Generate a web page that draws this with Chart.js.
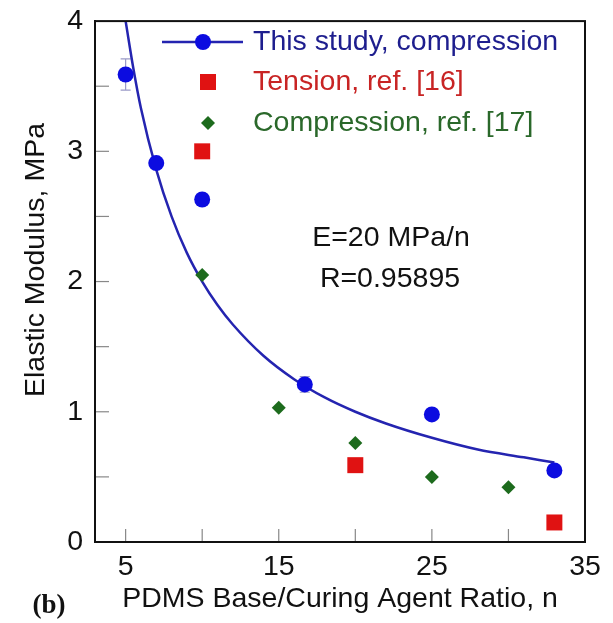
<!DOCTYPE html>
<html>
<head>
<meta charset="utf-8">
<script src="https://cdn.jsdelivr.net/npm/chart.js@4.4.1/dist/chart.umd.min.js"></script>
<style>
  html, body { margin: 0; padding: 0; background: #fff; }
  #wrap { width: 613px; height: 623px; }
</style>
</head>
<body>
<div id="wrap"><canvas id="modulusChart" width="613" height="623"></canvas></div>
<script>
// ─── Data ───────────────────────────────────────
const studyN = [5, 7, 10, 16.7, 25, 33];
const studyE = [3.59, 2.91, 2.63, 1.21, 0.98, 0.55];
const studyErrLo = [3.47, null, null, 1.15, null, null];
const studyErrHi = [3.71, null, null, 1.27, null, null];

const tensionN = [10, 20, 33];
const tensionE = [3.0, 0.59, 0.15];

const comp17N = [10, 15, 20, 25, 30];
const comp17E = [2.05, 1.03, 0.76, 0.5, 0.42];

// fitted curve E = 20 MPa/n, as traced
const fitN = [5, 5.5, 6, 7, 8, 9, 10, 11, 12, 14, 16, 18, 20, 22, 25, 28, 31, 33];
const fitE = [4.0, 3.64, 3.33, 2.86, 2.5, 2.22, 2.0, 1.82, 1.67, 1.43, 1.25, 1.11, 1.0, 0.91, 0.8, 0.71, 0.65, 0.61];

const xTicks = [5, 10, 15, 20, 25, 30, 35];
const xLabels = [5, 15, 25, 35];
const yLabels = [0, 1, 2, 3, 4];

const legendLabels = ["This study, compression", "Tension, ref. [16]", "Compression, ref. [17]"];
const fitText = ["E=20 MPa/n", "R=0.95895"];

// ─── Helpers ───────────────────────────────────
const FONT = "'Liberation Sans', Arial, sans-serif";
const FS = 28.5;
const BLUE = "#0c0ce0";
const LINE_BLUE = "#2424b0";
const RED = "#e01212";
const GREEN = "#1d6b1d";
const pts = (xs, ys) => xs.map((x, i) => ({ x, y: ys[i] }));

// ─── Plugin: frame, inward ticks, error bars, legend, labels ──
const figurePlugin = {
	id: "figure",
	beforeDatasetsDraw(chart) {
		const { ctx } = chart;
		const xs = chart.scales.x, ys = chart.scales.y;
		ctx.save();
		ctx.strokeStyle = "#9a9ac8";
		ctx.lineWidth = 1.2;
		studyN.forEach((n, i) => {
			if (studyErrLo[i] == null) return;
			const px = xs.getPixelForValue(n);
			const y1 = ys.getPixelForValue(studyErrLo[i]);
			const y2 = ys.getPixelForValue(studyErrHi[i]);
			ctx.beginPath();
			ctx.moveTo(px, y1); ctx.lineTo(px, y2);
			ctx.moveTo(px - 5, y1); ctx.lineTo(px + 5, y1);
			ctx.moveTo(px - 5, y2); ctx.lineTo(px + 5, y2);
			ctx.stroke();
		});
		ctx.restore();
	},
	afterDatasetsDraw(chart) {
		const { ctx, chartArea: a } = chart;
		const xs = chart.scales.x, ys = chart.scales.y;
		ctx.save();
		// inward ticks
		ctx.strokeStyle = "#888";
		ctx.lineWidth = 1.2;
		ys.ticks.forEach((t) => {
			if (t.value <= 0 || t.value >= 4) return;
			const py = ys.getPixelForValue(t.value);
			ctx.beginPath();
			ctx.moveTo(a.left, py); ctx.lineTo(a.left + 14, py);
			ctx.stroke();
		});
		xTicks.forEach((v) => {
			if (v >= 35) return;
			const px = xs.getPixelForValue(v);
			ctx.beginPath();
			ctx.moveTo(px, a.bottom); ctx.lineTo(px, a.bottom - 13);
			ctx.stroke();
		});
		// frame
		ctx.strokeStyle = "#111";
		ctx.lineWidth = 2;
		ctx.strokeRect(a.left, a.top, a.right - a.left, a.bottom - a.top);

		// legend
		ctx.font = `${FS}px ${FONT}`;
		ctx.textBaseline = "middle";
		ctx.textAlign = "left";
		const rows = [42, 82, 123];
		ctx.strokeStyle = LINE_BLUE;
		ctx.lineWidth = 2.5;
		ctx.beginPath();
		ctx.moveTo(162, rows[0]); ctx.lineTo(243, rows[0]);
		ctx.stroke();
		ctx.fillStyle = BLUE;
		ctx.beginPath(); ctx.arc(203, rows[0], 8, 0, Math.PI * 2); ctx.fill();
		ctx.fillStyle = RED;
		ctx.fillRect(200, rows[1] - 8, 16, 16);
		ctx.fillStyle = GREEN;
		ctx.beginPath();
		ctx.moveTo(208, rows[2] - 7); ctx.lineTo(215, rows[2]);
		ctx.lineTo(208, rows[2] + 7); ctx.lineTo(201, rows[2]);
		ctx.closePath(); ctx.fill();

		const textColors = ["#1e1e8e", "#c82424", "#2a682a"];
		legendLabels.forEach((s, i) => {
			ctx.fillStyle = textColors[i];
			ctx.fillText(s, 253, rows[i]);
		});

		// fit annotation
		ctx.fillStyle = "#111";
		ctx.textAlign = "center";
		ctx.fillText(fitText[0], 391, 238);
		ctx.fillText(fitText[1], 390, 279);

		// axis titles
		ctx.fillText("PDMS Base/Curing Agent Ratio, n", 340, 599);
		ctx.save();
		ctx.translate(36, 260);
		ctx.rotate(-Math.PI / 2);
		ctx.fillText("Elastic Modulus, MPa", 0, 0);
		ctx.restore();

		ctx.font = `bold 27px 'Liberation Serif', 'Times New Roman', serif`;
		ctx.fillText("(b)", 49, 606);
		ctx.restore();
	},
};

// ─── Chart ─────────────────────────────────────
const ctx = document.getElementById("modulusChart").getContext("2d");
new Chart(ctx, {
	type: "scatter",
	data: {
		datasets: [
			{
				label: "E=20/n",
				data: pts(fitN, fitE),
				showLine: true,
				borderColor: LINE_BLUE,
				borderWidth: 2.5,
				pointRadius: 0,
				cubicInterpolationMode: "monotone",
				fill: false,
				order: 4,
			},
			{
				label: legendLabels[0],
				data: pts(studyN, studyE),
				pointStyle: "circle",
				pointRadius: 8,
				backgroundColor: BLUE,
				borderWidth: 0,
				order: 1,
			},
			{
				label: legendLabels[1],
				data: pts(tensionN, tensionE),
				pointStyle: "rect",
				pointRadius: 11.3,
				backgroundColor: RED,
				borderWidth: 0,
				order: 2,
			},
			{
				label: legendLabels[2],
				data: pts(comp17N, comp17E),
				pointStyle: "rectRot",
				pointRadius: 7,
				backgroundColor: GREEN,
				borderWidth: 0,
				order: 3,
			},
		],
	},
	options: {
		responsive: false,
		animation: false,
		devicePixelRatio: 1,
		layout: { padding: { top: 17, right: 28, left: 0, bottom: 0 } },
		plugins: { legend: { display: false }, tooltip: { enabled: false } },
		scales: {
			x: {
				type: "linear",
				min: 3,
				max: 35,
				afterBuildTicks: (s) => { s.ticks = xTicks.map((v) => ({ value: v })); },
				afterFit: (s) => { s.height = 81; },
				ticks: {
					autoSkip: false,
					maxRotation: 0,
					padding: 0,
					color: "#111",
					font: { family: FONT, size: FS },
					callback: (v) => (xLabels.includes(v) ? String(v) : ""),
				},
				grid: { display: false },
				border: { display: true, color: "#111", width: 2 },
			},
			y: {
				min: 0,
				max: 4,
				afterFit: (s) => { s.width = 95; },
				ticks: {
					stepSize: 0.5,
					autoSkip: false,
					padding: 4,
					color: "#111",
					font: { family: FONT, size: FS },
					callback: (v) => (yLabels.includes(v) ? String(v) : ""),
				},
				grid: { display: false },
				border: { display: true, color: "#111", width: 2 },
			},
		},
	},
	plugins: [figurePlugin],
});
</script>
</body>
</html>
